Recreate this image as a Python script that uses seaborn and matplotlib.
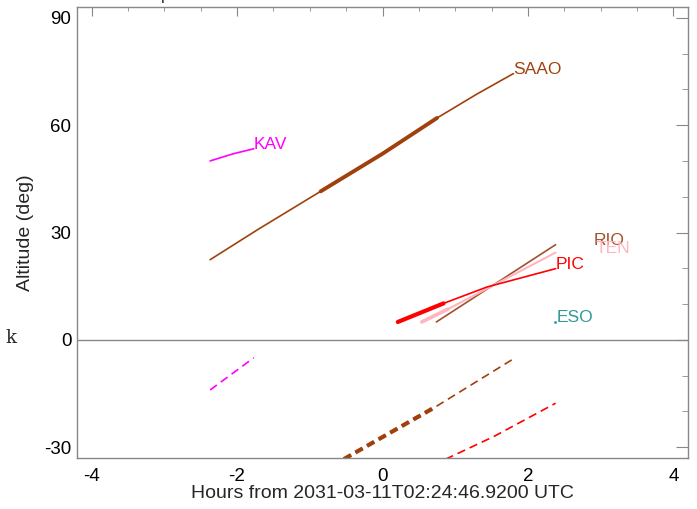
import numpy as np
import matplotlib
matplotlib.use("Agg")
import matplotlib.pyplot as plt
from matplotlib.ticker import MultipleLocator
import seaborn as sns

sns.set_style("white")
plt.rcParams['font.family'] = ['Liberation Sans', 'DejaVu Sans']
plt.rcParams['axes.unicode_minus'] = False

# altitude tracks (hours from reference time, altitude in deg)
saao_h = [-2.37, -1.7, -0.85, 0.0, 0.75, 1.3, 1.8]
saao_alt = [22.4, 31.0, 41.5, 52.0, 62.0, 68.7, 74.4]
saao_thick = (2, 5)
saao_dash_h = [-0.85, 0.73, 1.8]
saao_dash_alt = [-37.0, -18.7, -5.3]

kav_h = [-2.37, -2.05, -1.77]
kav_alt = [50.0, 52.0, 53.4]
kav_dash_h = [-2.37, -1.77]
kav_dash_alt = [-14.0, -5.0]

pic_h = [0.21, 0.84, 1.44, 2.38]
pic_alt = [5.0, 10.2, 14.8, 19.9]
pic_dash_h = [0.21, 0.84, 1.53, 2.38]
pic_dash_alt = [-40.0, -33.6, -27.0, -17.7]

ten_h = [0.54, 0.9, 2.38]
ten_alt = [5.0, 8.6, 24.4]

rio_h = [0.74, 2.38]
rio_alt = [5.0, 26.6]

eso_h = [2.37]
eso_alt = [5.0]

c_saao = '#a0410d'
c_kav = '#ff00ff'
c_pic = '#ff0000'
c_ten = '#ffb6c1'
c_rio = '#a0522d'
c_eso = '#2e9a94'

fig = plt.figure(figsize=(6.97, 5.09), dpi=100)
ax = fig.add_axes([77/697, 1-458/509, (688-77)/697, (458-7)/509])

def line(h, a, color, lw, ls='-'):
    sns.lineplot(x=h, y=a, ax=ax, color=color, lw=lw, linestyle=ls,
                 sort=False, estimator=None, legend=False)

ax.axhline(0, color='#888888', lw=1)

# solid altitude tracks
line(saao_h, saao_alt, c_saao, 1.2)
line(saao_h[saao_thick[0]:saao_thick[1]], saao_alt[saao_thick[0]:saao_thick[1]], c_saao, 2.8)
line(kav_h, kav_alt, c_kav, 1.2)
line(rio_h, rio_alt, c_rio, 1.2)
line(ten_h, ten_alt, c_ten, 1.5)
line(ten_h[:2], ten_alt[:2], c_ten, 2.6)
line(pic_h, pic_alt, c_pic, 1.2)
line(pic_h[:2], pic_alt[:2], c_pic, 3)
ax.plot(eso_h, eso_alt, marker='.', ms=2, color=c_eso, ls='none')

# dashed tracks
line(kav_dash_h, kav_dash_alt, c_kav, 1.2, (0, (5, 3)))
line(saao_dash_h, saao_dash_alt, c_saao, 1.2, (0, (5, 3)))
line(saao_dash_h[:2], saao_dash_alt[:2], c_saao, 3, (0, (2, 1.2)))
line(pic_dash_h, pic_dash_alt, c_pic, 1.2, (0, (5, 3)))

# station labels
lab_kw = dict(fontsize=12.5, va='baseline', ha='left')
ax.text(saao_h[-1], saao_alt[-1], 'SAAO', color=c_saao, **lab_kw)
ax.text(kav_h[-1], kav_alt[-1], 'KAV', color=c_kav, **lab_kw)
ax.text(pic_h[-1], pic_alt[-1], 'PIC', color=c_pic, **lab_kw)
ax.text(rio_h[-1] + 0.52, rio_alt[-1], 'RIO', color=c_rio, **lab_kw)
ax.text(ten_h[-1] + 0.55, ten_alt[-1], 'TEN', color=c_ten, **lab_kw)
ax.text(eso_h[-1] + 0.02, eso_alt[-1], 'ESO', color=c_eso, **lab_kw)

ax.set_xlim(-4.2, 4.2)
ax.set_ylim(-33, 93)
ax.xaxis.set_major_locator(MultipleLocator(2))
ax.xaxis.set_minor_locator(MultipleLocator(0.5))
ax.yaxis.set_major_locator(MultipleLocator(30))
ax.yaxis.set_minor_locator(MultipleLocator(10))
ax.tick_params(axis='both', which='both', direction='in', top=True, right=True,
               color='#888888', labelsize=13.5, labelcolor='black')
ax.tick_params(axis='x', which='major', length=6.5, pad=7)
ax.tick_params(axis='x', which='minor', length=3.2)
ax.tick_params(axis='y', which='major', length=8.6, pad=4)
ax.tick_params(axis='y', which='minor', length=4.3)
for s in ax.spines.values():
    s.set_color('#888888')
    s.set_linewidth(1)

ax.set_xlabel('Hours from 2031-03-11T02:24:46.9200 UTC', fontsize=14, labelpad=0)
ax.set_ylabel('Altitude (deg)', fontsize=14, labelpad=7)

fig.text(166/697, 1.0, 'p', fontsize=12, ha='center', va='baseline')
fig.text(5/697, 1-343/509, 'k', fontsize=13, family='DejaVu Serif')

fig.savefig('out.png', dpi=100)
